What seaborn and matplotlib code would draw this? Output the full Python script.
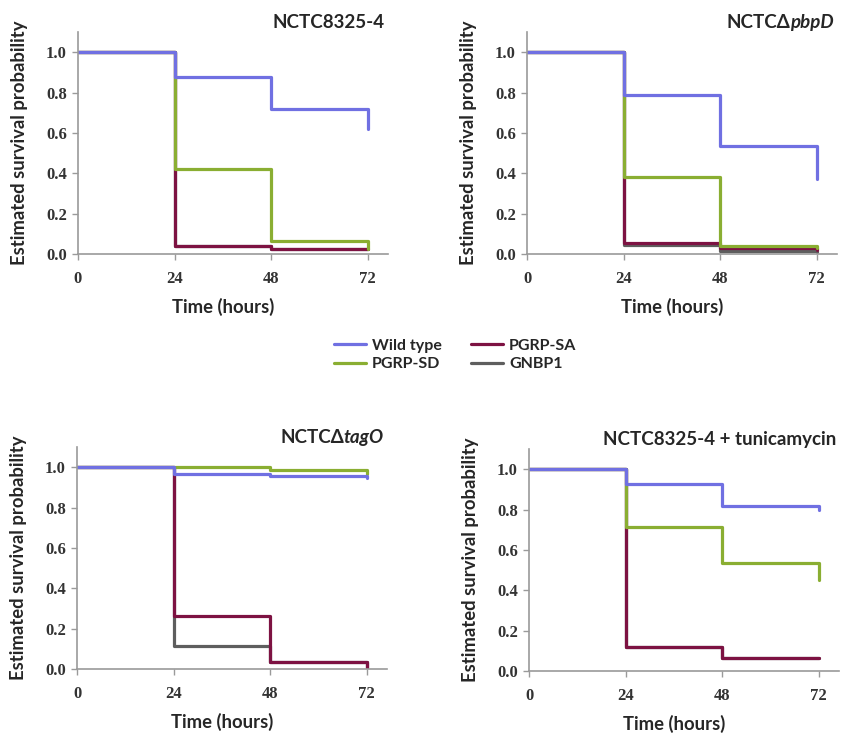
import numpy as np
import pandas as pd
import matplotlib
matplotlib.use("Agg")
import matplotlib.pyplot as plt
from matplotlib.lines import Line2D
import seaborn as sns

sns.set_theme(style="white")
plt.rcParams["font.family"] = ["Lato", "DejaVu Sans"]

# Observation times (hours) and Kaplan-Meier survival estimates
times = [0, 24, 48, 72]
strains = ["Wild type", "PGRP-SD", "PGRP-SA", "GNBP1"]

panel_titles = ["NCTC8325-4", ("NCTC\u0394", "pbpD"), ("NCTC\u0394", "tagO"), "NCTC8325-4 + tunicamycin"]

wt_8325 = [1.0, 0.875, 0.72, 0.62]
sd_8325 = [1.0, 0.42, 0.065, 0.025]
sa_8325 = [1.0, 0.04, 0.025, 0.025]
gn_8325 = [1.0, 0.04, 0.025, 0.025]

wt_pbpd = [1.0, 0.79, 0.535, 0.37]
sd_pbpd = [1.0, 0.38, 0.04, 0.03]
sa_pbpd = [1.0, 0.055, 0.03, 0.02]
gn_pbpd = [1.0, 0.045, 0.015, 0.01]

wt_tago = [1.0, 0.965, 0.955, 0.945]
sd_tago = [1.0, 1.0, 0.985, 0.965]
sa_tago = [1.0, 0.265, 0.035, 0.005]
gn_tago = [1.0, 0.115, 0.035, 0.005]

wt_tuni = [1.0, 0.925, 0.82, 0.80]
sd_tuni = [1.0, 0.715, 0.535, 0.45]
sa_tuni = [1.0, 0.12, 0.065, 0.065]
gn_tuni = [1.0, 0.12, 0.065, 0.065]

panel_data = [
    [wt_8325, sd_8325, sa_8325, gn_8325],
    [wt_pbpd, sd_pbpd, sa_pbpd, gn_pbpd],
    [wt_tago, sd_tago, sa_tago, gn_tago],
    [wt_tuni, sd_tuni, sa_tuni, gn_tuni],
]

palette = {
    "Wild type": "#7070e2",
    "PGRP-SD": "#8aae32",
    "PGRP-SA": "#7d1242",
    "GNBP1": "#5e5e5e",
}
draw_order = ["GNBP1", "PGRP-SA", "PGRP-SD", "Wild type"]

fig = plt.figure(figsize=(8.46, 7.36), dpi=100)
W, H = 846, 736
boxes = [
    (78, 254, 310, 222),
    (527, 254, 310, 222),
    (77, 669, 310, 222),
    (529, 671, 310, 222),
]

spine_col = "#9a9a9a"
tick_font = dict(family=["Liberation Serif", "DejaVu Serif"], weight="bold", size=12)
label_font = dict(family=["Lato", "DejaVu Sans"], weight="bold", size=13.3)

for (x0, ybot, w, h), series, title in zip(boxes, panel_data, panel_titles):
    ax = fig.add_axes([x0 / W, (H - ybot) / H, w / W, h / H])
    rows = []
    for name, vals in zip(strains, series):
        for t, v in zip(times, vals):
            rows.append({"time": t, "survival": v, "strain": name})
    df = pd.DataFrame(rows)
    sns.lineplot(data=df, x="time", y="survival", hue="strain", hue_order=draw_order,
                 palette=palette, estimator=None, sort=False, drawstyle="steps-post",
                 linewidth=2.3, legend=False, ax=ax)
    ax.set_xlim(0, 77)
    ax.set_ylim(0, 1.1)
    ax.set_xticks(times)
    ax.set_yticks([0, 0.2, 0.4, 0.6, 0.8, 1.0])
    ax.set_xticklabels([str(t) for t in times], **tick_font, color="#333333")
    ax.set_yticklabels([f"{v:.1f}" for v in [0, 0.2, 0.4, 0.6, 0.8, 1.0]], **tick_font, color="#333333")
    ax.tick_params(axis="x", length=4, width=1, color=spine_col, pad=8, bottom=True)
    ax.tick_params(axis="y", length=4, width=1, color=spine_col, pad=4, left=True)
    for s in ["top", "right"]:
        ax.spines[s].set_visible(False)
    for s in ["left", "bottom"]:
        ax.spines[s].set_color(spine_col)
        ax.spines[s].set_linewidth(1.2)
    ax.set_xlabel("Time (hours)", **label_font)
    ax.set_ylabel("Estimated survival probability", **label_font)
    ax.yaxis.set_label_coords(-0.16, 0.5)
    ax.xaxis.set_label_coords(0.468, -0.198)

    tfont = dict(family=["Lato", "DejaVu Sans"], weight="bold", size=13.5)
    if isinstance(title, tuple):
        it = ax.text(0.99, 1.005, title[1], transform=ax.transAxes, ha="right", va="bottom",
                     style="italic", **tfont)
        ax.annotate(title[0], xy=(0, 0), xycoords=it, ha="right", va="bottom", **tfont)
    else:
        ax.text(0.99, 1.005, title, transform=ax.transAxes, ha="right", va="bottom", **tfont)

handles = [Line2D([], [], color=palette[s], lw=2.3) for s in strains]
fig.legend(handles, strains, ncol=2, loc="center", bbox_to_anchor=(455 / W, 1 - 355 / H),
           frameon=False, handlelength=2.0, columnspacing=1.8, handletextpad=0.4,
           labelspacing=0.25, prop=dict(family=["Lato", "DejaVu Sans"], weight="bold", size=11.5))

fig.savefig("out.png", dpi=100, facecolor="white")
